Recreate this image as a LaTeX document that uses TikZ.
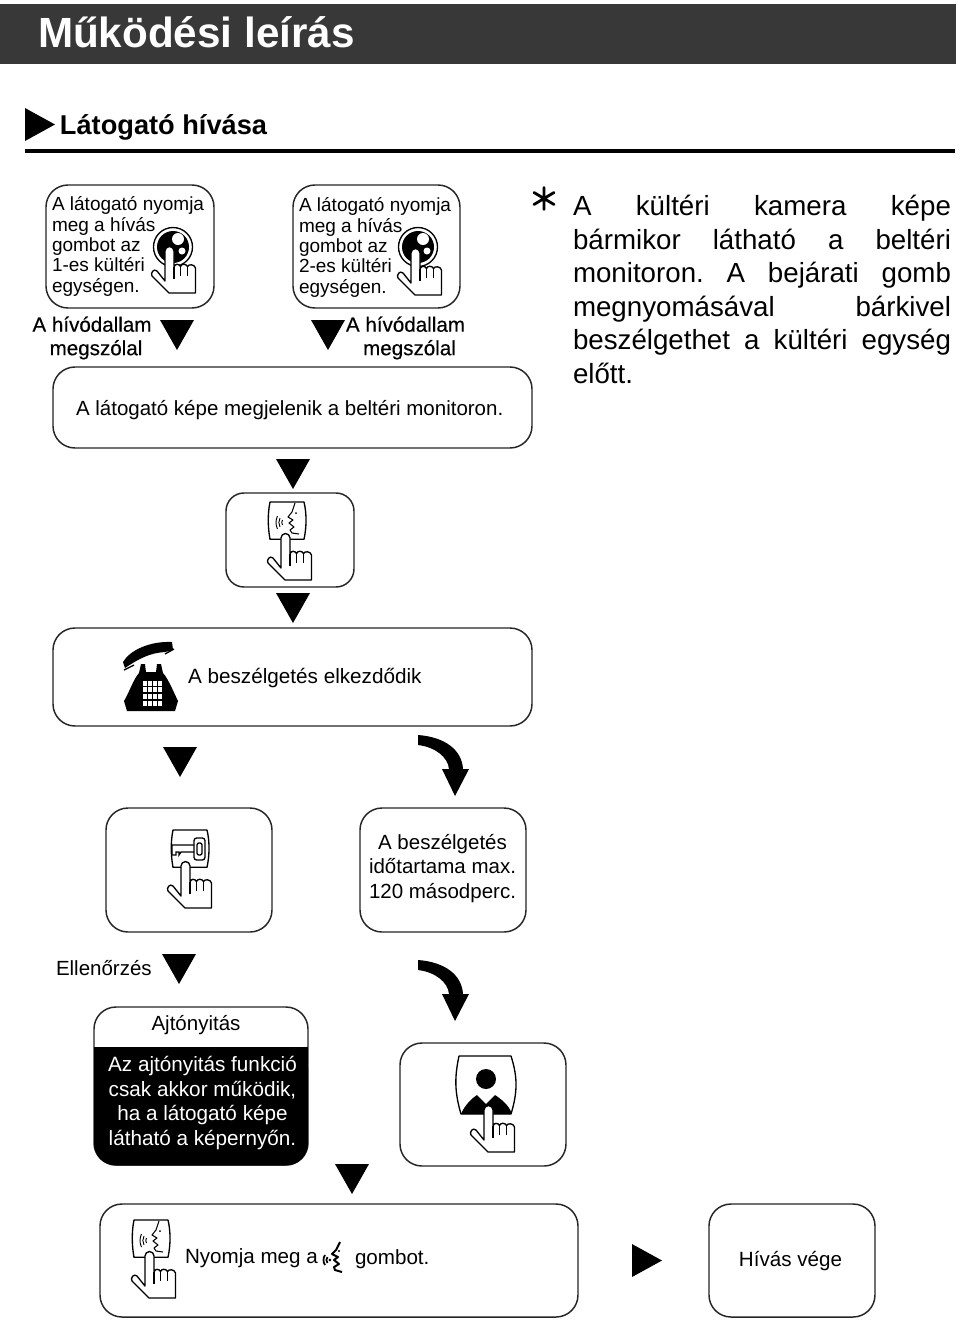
\documentclass[tikz,border=0pt]{standalone}
\usepackage{fontspec}
\setmainfont{Liberation Sans}
\newfontfamily\fakeb[FakeBold=0.4]{Liberation Sans}
\newcommand{\fsz}[2]{\fontsize{\dimexpr#1pt*3/4\relax}{\dimexpr#2pt*3/4\relax}\selectfont}
\newcommand{\rb}[5]{\draw[rbox,rounded corners=#5*0.75pt] (#1,#2) rectangle (#3,#4);}
\newcommand{\tri}[2]{\fill (#1-17,#2) -- (#1+17,#2) -- (#1,#2+30) -- cycle;}
\tikzset{
 rbox/.style={draw=black!85,line width=1.1pt,fill=white},
 lab/.style={inner sep=0pt,outer sep=0pt,align=left,anchor=west},
 labc/.style={inner sep=0pt,outer sep=0pt,align=center},
 pics/hand/.style={code={
  \draw[line width=1pt,fill=white,line join=round]
   (-5,3) arc[start angle=180,end angle=360,radius=4.5] -- (4,19)
   .. controls (5,15.5) and (9,15.5) .. (10.5,18.5)
   .. controls (11.5,15.5) and (16,15.5) .. (17.5,18.5)
   .. controls (18.5,16) and (24.5,16) .. (25.5,20)
   -- (25.5,45) -- (-1,45) -- (-18,28)
   .. controls (-20,25) and (-16,20) .. (-13,23) -- (-5,33) -- cycle;
  \draw[line width=1pt] (4,19) -- (4,31) (10.5,18.5) -- (10.5,28) (17.5,18.5) -- (17.5,28);
 }},
 pics/panel/.style={code={
  \draw[line width=1pt,line join=round]
   (-16,-33) -- (18,-33) .. controls (20.7,-22) and (20.7,-8) .. (18,4.3) -- (-16,4.3)
   .. controls (-18.3,-8) and (-18.3,-22) .. (-16,-33) -- cycle;
 }},
 pics/face/.style={code={
  \draw[line width=.8pt,line join=round] (9,-32) -- (6,-23) -- (2,-18) -- (7,-15) -- (3,-12) -- (8,-8) -- (4,-5) -- (6,-2) -- (13,-1);
  \fill (10,-22) circle[radius=1];
  \draw[line width=.7pt]
   (-3.5,-15) .. controls (-4.5,-13.5) and (-4.5,-11.5) .. (-3.5,-10)
   (-6,-17) .. controls (-7.5,-14) and (-7.5,-11) .. (-6,-8)
   (-8.5,-19) .. controls (-10.5,-15) and (-10.5,-10) .. (-8.5,-6);
 }},
 pics/button/.style={code={
  \draw[line width=1pt] (0,0) circle[radius=19.5];
  \fill (0,0) circle[radius=16];
  \fill[white] (5,-8) circle[radius=6] (9,4) circle[radius=3.5];
 }},
}
\begin{document}
\frenchspacing
\begin{tikzpicture}[x=0.75pt,y=-0.75pt]
\useasboundingbox (0,0) rectangle (960,1322);
\fill[white] (0,0) rectangle (960,1322);
% header
\fill[black!78] (0,4) rectangle (956,64);
\node[lab,text=white,font=\bfseries\fsz{42.2}{46}] (title) at (38,32.5) {Működési leírás};
\fill (25,108) -- (55,124.5) -- (25,141) -- cycle;
\node[lab,font=\bfseries\fsz{27.2}{32}] (sect) at (60,127) {Látogató hívása};
\fill (25,149) rectangle (955,153);
% boxes
\rb{46}{185}{214}{308}{22}
\rb{293}{185}{460}{308}{22}
\rb{53}{367}{532}{448}{22}
\rb{226}{493}{354}{587}{18}
\rb{53}{628}{532}{726}{22}
\rb{106}{808}{272}{932}{22}
\rb{360}{808}{526}{932}{22}
\rb{94}{1007}{308}{1165}{22}
\rb{400}{1043}{566}{1166}{22}
\rb{100}{1204}{578}{1317}{22}
\rb{709}{1204}{875}{1317}{22}
\fill[rounded corners=16.5pt] (94,1047) -- (94,1165.5) -- (308,1165.5) -- (308,1047) [sharp corners] -- cycle;
\fill (94,1047) rectangle (308,1075);
% triangles
\tri{177}{320}\tri{328}{320}\tri{293}{459}\tri{293}{593}\tri{180}{747}\tri{179}{954}\tri{352}{1164}
\fill (632,1244) -- (662,1260.5) -- (632,1277) -- cycle;
% curved arrows
\foreach \d in {0,225}{
 \begin{scope}[yshift=-\d*0.75pt]
 \fill (418,735) .. controls (445,737) and (462,750) .. (463,769) -- (469,769) -- (455,796) -- (442,769) -- (449,769) .. controls (448,757) and (435,747) .. (418,745) -- cycle;
 \end{scope}
}
% texts
\node[lab,font=\fsz{19}{20.4}] (t1) at (52,246.5) {A látogató nyomja\\meg a hívás\\gombot az\\1-es kültéri\\egységen.};
\node[lab,font=\fsz{19}{20.4}] (t2) at (299,247.5) {A látogató nyomja\\meg a hívás\\gombot az\\2-es kültéri\\egységen.};
\node[labc,font=\fakeb\fsz{20.6}{23.5}] (r1) at (92,338) {A hívódallam\\\hspace*{6pt}megszólal};
\node[labc,font=\fakeb\fsz{20.6}{23.5}] (r2) at (405.5,338) {A hívódallam\\\hspace*{6pt}megszólal};
\node[lab,font=\fsz{20.5}{24}] (t3) at (76,410) {A látogató képe megjelenik a beltéri monitoron.};
\node[lab,font=\fsz{20.7}{24}] (t5) at (188,678) {A beszélgetés elkezdődik};
\node[lab,font=\fsz{20.5}{24.5},align=center] (t7) at (369,868.5) {A beszélgetés\\időtartama max.\\120 másodperc.};
\node[lab,font=\fsz{20.5}{24}] (ell) at (56,968) {Ellenőrzés};
\node[labc,font=\fsz{20.5}{24}] (ajt) at (196,1025) {Ajtónyitás};
\node[labc,text=white,font=\fsz{20.7}{24.7}] (ajt2) at (202.5,1103) {Az ajtónyitás funkció\\csak akkor működik,\\ha a látogató képe\\látható a képernyőn.};
\node[lab,font=\fsz{20.6}{24}] (ny) at (185,1258.5) {Nyomja meg a};
\node[lab,font=\fsz{20.6}{24}] (go) at (355,1259.5) {gombot.};
\node[labc,font=\fsz{20.6}{24}] (hv) at (790.5,1261) {Hívás vége};
\newlength\jw \setlength\jw{283.5pt}
\node[lab,anchor=north west,font=\fsz{27.7}{33.5}] (rt) at (573,195.5) {\makebox[\jw][s]{A kültéri kamera képe}\\\makebox[\jw][s]{bármikor látható a beltéri}\\\makebox[\jw][s]{monitoron. A bejárati gomb}\\\makebox[\jw][s]{megnyomásával bárkivel}\\\makebox[\jw][s]{beszélgethet a kültéri egység}\\előtt.};
% asterisk
\draw[line width=2.1pt,line cap=round] (544,187.5) -- (544,209.5) (534,192.5) -- (554,204.5) (534,204.5) -- (554,192.5);
% icons
\pic at (173,247) {button}; \pic at (170,248) {hand};
\pic at (418,247) {button}; \pic at (416,250) {hand};
\pic at (286,535) {panel}; \pic at (286,535) {face}; \pic at (286,535) {hand};
\pic at (150,1253) {panel}; \pic at (150,1253) {face}; \pic at (150,1253) {hand};
% key icon
\begin{scope}[shift={(186,863)}]
 \pic at (3,0) {panel};
 \draw[line width=1pt,rounded corners=2pt] (8,-25) rectangle (19,-3);
 \draw[line width=1pt,rounded corners=1.5pt] (11,-20) rectangle (16,-8);
 \draw[line width=1pt] (8,-18) -- (-14,-18) -- (-14,-8) -- (-10,-8) -- (-10,-11) -- (-7,-11) -- (-7,-8) -- (-5,-11) -- (8,-11);
\end{scope}
\pic at (186,863) {hand};
% person icon
\begin{scope}[shift={(489,1107)}]
 \draw[line width=1pt,line join=round] (-30,-51) -- (22,-51) .. controls (28.7,-30) and (28.7,-15) .. (22,7) -- (-28,7) .. controls (-34.5,-15) and (-34.5,-30) .. (-30,-51) -- cycle;
 \fill (-3,-28) circle[radius=10];
 \fill (-28,7) .. controls (-24,-2) and (-18,-8) .. (-12,-12) -- (-3,-3) -- (6,-12) .. controls (12,-8) and (20,-2) .. (23,7) -- cycle;
\end{scope}
\pic at (489,1107) {hand};
% phone
\fill (123,662) .. controls (130,650) and (150,641) .. (172,642) -- (173,650) -- (165,652) .. controls (150,653) and (140,658) .. (125,668) -- cycle;
\draw[line width=1pt] (124,670) -- (134,665) (165,654) -- (174,649);
\fill (141,664) -- (145,664) -- (146,672) -- (156,672) -- (157,664) -- (161,664) -- (163,673) .. controls (168,678) and (175,695) .. (178,701) -- (175,711) -- (127,711) -- (124,701) .. controls (128,695) and (134,678) .. (139,673) -- cycle;
\foreach \i in {0,1,2,3} \foreach \j in {0,1,2,3}
 \fill[white] (142.5+\i*5.2,680.5+\j*6.7) rectangle ++(4,5.2);
% small speak symbol
\begin{scope}[shift={(325,1258)}]
 \draw[line width=1.5pt,line join=round] (15,-16) -- (11,-8) -- (7,-4) -- (13,-1) -- (9,2) -- (14,6) -- (9,9) -- (10,12) -- (17,14);
 \fill (14,-7) circle[radius=1.2];
 \draw[line width=1.3pt] (0,-3) .. controls (-2,0) and (-2,4) .. (0,7) (2.5,-1) .. controls (1,1) and (1,3) .. (2.5,5);
 \fill (4.8,2) circle[radius=1.5];
\end{scope}
\end{tikzpicture}
\end{document}
